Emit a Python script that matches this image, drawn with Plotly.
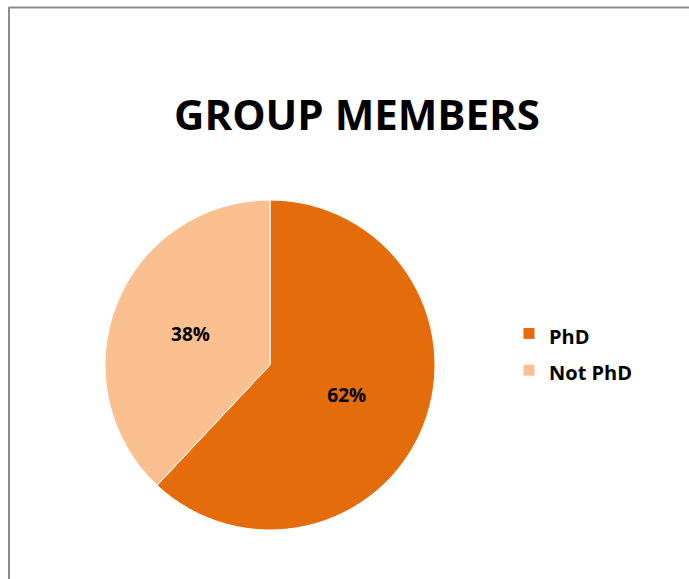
import plotly.graph_objects as go

labels = ["PhD", "Not PhD"]
values = [62, 38]
colors = ["#E46C0A", "#FAC090"]
title_text = "GROUP MEMBERS"

W, H = 689, 579
cx, cy, r = 270, 365, 165

legend_labels = [f"<span style='font-size:20px'>{lab}</span>" for lab in labels]

fig = go.Figure(
    go.Pie(
        labels=legend_labels,
        values=values,
        sort=False,
        direction="clockwise",
        rotation=0,
        marker=dict(colors=colors, line=dict(color="white", width=1)),
        textinfo="percent",
        texttemplate="%{percent:.0%}",
        textposition="inside",
        insidetextorientation="horizontal",
        textfont=dict(family="Open Sans", size=19, color="black", weight="bold"),
        domain=dict(x=[(cx - r) / W, (cx + r) / W], y=[(H - cy - r) / H, (H - cy + r) / H]),
        hoverinfo="label+percent",
    )
)

fig.update_layout(
    width=W,
    height=H,
    margin=dict(l=0, r=0, t=0, b=0),
    paper_bgcolor="white",
    plot_bgcolor="white",
    title=dict(
        text=title_text,
        x=357 / W,
        xanchor="center",
        y=1 - 115 / H,
        yanchor="middle",
        font=dict(family="Open Sans", size=42, color="black", weight="bold"),
    ),
    legend=dict(
        x=509 / W,
        xanchor="left",
        y=1 - 352 / H,
        yanchor="middle",
        font=dict(family="Open Sans", size=26, color="black", weight="bold"),
        bgcolor="rgba(0,0,0,0)",
    ),
    shapes=[
        dict(type="line", xref="paper", yref="paper", x0=9 / W, x1=1.0, y0=1 - 7.5 / H, y1=1 - 7.5 / H,
             line=dict(color="#8C8C8C", width=2)),
        dict(type="line", xref="paper", yref="paper", x0=9 / W, x1=9 / W, y0=0, y1=1 - 7 / H,
             line=dict(color="#8C8C8C", width=2)),
    ],
)

fig.write_html("out.html", config={"displayModeBar": False},
               post_script="document.body.style.margin='0';")
